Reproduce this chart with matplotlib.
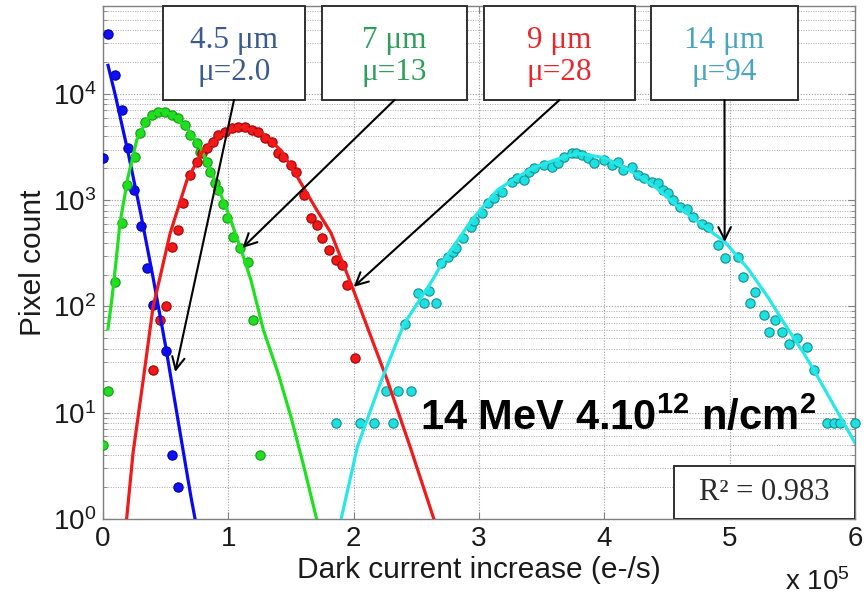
import matplotlib
matplotlib.use("Agg")
import matplotlib.pyplot as plt
from matplotlib.patches import Rectangle
from matplotlib.ticker import FixedLocator, LogLocator, NullFormatter

# ---- measured pixel counts (x in units of 1e5 e-/s) ----
blue_x = [0.00, 0.04, 0.096, 0.15, 0.20, 0.245, 0.30, 0.35, 0.40, 0.50, 0.55, 0.60]
blue_y = [2500, 36300, 15000, 7000, 3100, 1250, 570, 230, 103, 38, 4, 2]

green_x = [0.00, 0.04, 0.096, 0.15, 0.19, 0.256, 0.296, 0.336, 0.39, 0.44,
           0.496, 0.55, 0.60, 0.656, 0.696, 0.75, 0.776, 0.83, 0.856, 0.896,
           0.92, 0.96, 0.99, 1.04, 1.096, 1.16, 1.20, 1.256]
green_y = [5, 16, 170, 610, 1390, 2560, 4300, 5400, 6300, 6770,
           6770, 6310, 5890, 5130, 4070, 3470, 2820, 2290, 1860, 1450,
           1260, 930, 680, 450, 355, 263, 75, 4]

red_x = [0.40, 0.456, 0.50, 0.55, 0.60, 0.64, 0.696, 0.75, 0.79, 0.83,
         0.88, 0.92, 0.976, 1.03, 1.08, 1.136, 1.19, 1.24, 1.296, 1.35,
         1.40, 1.44, 1.50, 1.536, 1.60, 1.656, 1.71, 1.75, 1.80, 1.856,
         1.91, 1.95, 2.01]
red_y = [25, 74, 100, 363, 525, 933, 1738, 2291, 2754, 3090,
         3548, 4074, 4365, 4786, 4898, 4898, 4571, 4365, 3890, 3548,
         2754, 2570, 2138, 1862, 1122, 676, 589, 437, 339, 275,
         245, 158, 33]

cyan_x = [1.856, 2.05, 2.16, 2.31, 2.26, 2.35, 2.46, 2.41, 2.51, 2.60,
          2.56, 2.66, 2.70, 2.75, 2.79, 2.82, 2.87, 2.94, 2.96, 3.02,
          3.07, 3.12, 3.18, 3.26, 3.30, 3.36, 3.40, 3.44, 3.52, 3.58,
          3.63, 3.68, 3.74, 3.77, 3.82, 3.87, 3.92, 4.00, 4.06, 4.11,
          4.15, 4.22, 4.27, 4.32, 4.38, 4.43, 4.47, 4.51, 4.55, 4.60,
          4.66, 4.71, 4.78, 4.83, 4.91, 4.96, 5.07, 5.11, 5.20, 5.16,
          5.27, 5.36, 5.31, 5.42, 5.47, 5.54, 5.62, 5.67, 5.78, 5.83,
          5.88, 6.00]
cyan_y = [8, 8, 8, 8, 16, 16, 16, 68, 135, 141,
          107, 107, 257, 295, 324, 355, 437, 562, 631, 759,
          933, 1047, 1202, 1479, 1622, 1549, 1862, 1995, 2138, 2042,
          2239, 2570, 2754, 2754, 2692, 2512, 2239, 2399, 2138, 2291,
          1905, 2042, 1738, 1622, 1479, 1445, 1259, 1175, 1000, 871,
          832, 692, 603, 562, 380, 288, 295, 190, 138, 107,
          83, 74, 58, 58, 44, 50, 42, 25, 8, 8,
          8, 8]

# ---- fitted distributions ----
blue_fit_x = [0.04, 0.10, 0.20, 0.30, 0.40, 0.50, 0.60, 0.70, 0.75]
blue_fit_y = [18600, 9550, 2820, 760, 186, 42, 8.3, 1.66, 0.8]

green_fit_x = [0.04, 0.07, 0.10, 0.136, 0.20, 0.27, 0.35, 0.45, 0.56, 0.67,
               0.78, 0.88, 0.99, 1.10, 1.18, 1.28, 1.40, 1.50, 1.60, 1.70, 1.72]
green_fit_y = [62, 115, 240, 617, 1660, 3715, 5750, 7080, 6310, 4790,
               3090, 1660, 813, 347, 178, 60, 23, 9.1, 3.2, 1.05, 0.85]

red_fit_x = [0.18, 0.24, 0.32, 0.40, 0.45, 0.536, 0.67, 0.80, 0.96, 1.10,
             1.26, 1.42, 1.55, 1.70, 1.82, 1.99, 2.08, 2.27, 2.45, 2.64, 2.66]
red_fit_y = [0.79, 4.2, 20, 100, 178, 490, 1550, 2950, 4270, 4900,
             4370, 2950, 1660, 830, 490, 151, 79, 20, 4.8, 1.0, 0.85]

cyan_fit_x = [1.88, 1.90, 2.03, 2.22, 2.40, 2.63, 2.70, 2.94, 3.15, 3.42,
              3.68, 3.80, 4.00, 4.19, 4.40, 4.59, 4.80, 4.96, 5.15, 5.31,
              5.44, 5.60, 5.71, 5.85, 6.00]
cyan_fit_y = [0.79, 1.0, 4.8, 20, 68, 178, 251, 646, 1259, 1995,
              2570, 2754, 2512, 1950, 1349, 871, 562, 407, 224, 120,
              68, 35, 21, 10.7, 5.2]

# ---- annotation labels and arrow targets ----
box_labels = ["4.5 \u03bcm\n\u03bc=2.0", "7 \u03bcm\n\u03bc=13",
              "9 \u03bcm\n\u03bc=28", "14 \u03bcm\n\u03bc=94"]
arrow_x = [0.576, 1.112, 2.00, 4.96]
arrow_y = [24.2, 355, 153, 405]
x_ticks = [0, 1, 2, 3, 4, 5, 6]
y_ticks = [1, 10, 100, 1000, 10000]

plt.rcParams["font.family"] = ["Liberation Sans", "DejaVu Sans"]
plt.rcParams["mathtext.fontset"] = "custom"
plt.rcParams["mathtext.rm"] = "Liberation Sans"
plt.rcParams["mathtext.bf"] = "Liberation Sans:bold"
plt.rcParams["mathtext.it"] = "Liberation Sans:italic"

W, H = 866, 595
fig = plt.figure(figsize=(W / 100, H / 100), dpi=100)
ax = fig.add_axes([103 / W, 76 / H, 752 / W, 513 / H])

ax.set_yscale("log")
ax.set_xlim(0, 6)
ax.set_ylim(1, 67300)

# scatter data
mk = dict(linestyle="none", marker="o", markersize=6.7, markeredgewidth=0.8, zorder=3)
ax.plot(blue_x, blue_y, markerfacecolor="#1010f0", markeredgecolor="#0000a0", **mk)
ax.plot(green_x, green_y, markerfacecolor="#22dd22", markeredgecolor="#119a11", **mk)
ax.plot(red_x, red_y, markerfacecolor="#f01818", markeredgecolor="#a00000", **mk)
ax.plot(cyan_x, cyan_y, markerfacecolor="#1ee0e0", markeredgecolor="#138f8f",
        clip_on=False, **mk)

# fit curves
lw = 2.3
ax.plot(blue_fit_x, blue_fit_y, color="#0a0aee", lw=lw, zorder=4)
ax.plot(green_fit_x, green_fit_y, color="#1fe01f", lw=lw, zorder=4)
ax.plot(red_fit_x, red_fit_y, color="#f01a1a", lw=lw, zorder=4)
ax.plot(cyan_fit_x, cyan_fit_y, color="#26e8e8", lw=lw, zorder=4)

# axes styling
ax.xaxis.set_major_locator(FixedLocator(x_ticks))
ax.yaxis.set_major_locator(FixedLocator(y_ticks))
ax.yaxis.set_minor_locator(LogLocator(base=10, subs=range(2, 10), numticks=20))
ax.yaxis.set_minor_formatter(NullFormatter())
ax.tick_params(which="both", direction="in", top=True, right=True,
               color="#808080", labelsize=20, labelcolor="#1a1a1a")
ax.tick_params(which="major", length=5, width=0.8)
ax.tick_params(which="minor", length=3, width=0.6)
ax.tick_params(axis="x", pad=5)
ax.tick_params(axis="y", pad=5)
for s in ax.spines.values():
    s.set_color("#808080")
    s.set_linewidth(1.0)
ax.grid(which="major", linestyle=(0, (1, 1.5)), color="#9a9a9a", linewidth=0.8)
ax.grid(which="minor", axis="y", linestyle=(0, (1, 1.5)), color="#a8a8a8", linewidth=0.7)
ax.set_axisbelow(True)

ax.set_xlabel("Dark current increase (e-/s)", fontsize=21.5, color="#1a1a1a")
ax.set_ylabel("Pixel count", fontsize=21.5, color="#1a1a1a")
ax.xaxis.set_label_coords(0.5, -0.072)
ax.yaxis.set_label_coords(-0.074, 0.5)

fig.text(785 / W, 5 / H, r"x $\mathregular{10^{5}}$", fontsize=20,
         color="#1a1a1a", va="baseline", ha="left")

# labelled boxes with arrows pointing at the curves
box_x0 = [163, 322, 484, 651]
box_x1 = [305, 467, 635, 798]
box_colors = ["#3b5b8c", "#2f9e5a", "#e8262b", "#4aa5bf"]
y_bot = (519 - 100) / 513
for lab, xa, ya, c, a, b in zip(box_labels, arrow_x, arrow_y, box_colors, box_x0, box_x1):
    fx0 = (a - 103) / 752
    fx1 = (b - 103) / 752
    ax.add_patch(Rectangle((fx0, y_bot), fx1 - fx0, 1 - y_bot, transform=ax.transAxes,
                           facecolor="white", edgecolor="#303030", linewidth=1.4,
                           zorder=6, clip_on=False))
    cx = (fx0 + fx1) / 2
    ax.text(cx, (1 + y_bot) / 2 - 0.006, lab, transform=ax.transAxes, ha="center",
            va="center", fontsize=22.5, color=c, family="Liberation Serif",
            linespacing=1.13, zorder=7)
    ax.annotate("", xy=(xa, ya), xycoords="data", xytext=(cx, y_bot),
                textcoords="axes fraction",
                arrowprops=dict(arrowstyle="->,head_length=0.9,head_width=0.45",
                                color="black", lw=1.5, shrinkA=0, shrinkB=0),
                zorder=8)

# irradiation condition
ax.text((420 - 103) / 752, (519 - 430) / 513,
        r"$\mathbf{14\ MeV\ 4.10^{12}\ n/cm^{2}}$",
        transform=ax.transAxes, fontsize=30, color="black", ha="left",
        va="baseline", zorder=7)

# goodness of fit box
rx0 = (674 - 103) / 752
ry1 = (519 - 466) / 513
ax.add_patch(Rectangle((rx0, 0), 1 - rx0, ry1, transform=ax.transAxes,
                       facecolor="white", edgecolor="#303030", linewidth=1.4, zorder=6))
ax.text((rx0 + 1) / 2, ry1 / 2, "R\u00b2 = 0.983", transform=ax.transAxes,
        ha="center", va="center", fontsize=22, color="#2a2a2a",
        family="Liberation Serif", zorder=7)

fig.savefig("out.png", dpi=100)
